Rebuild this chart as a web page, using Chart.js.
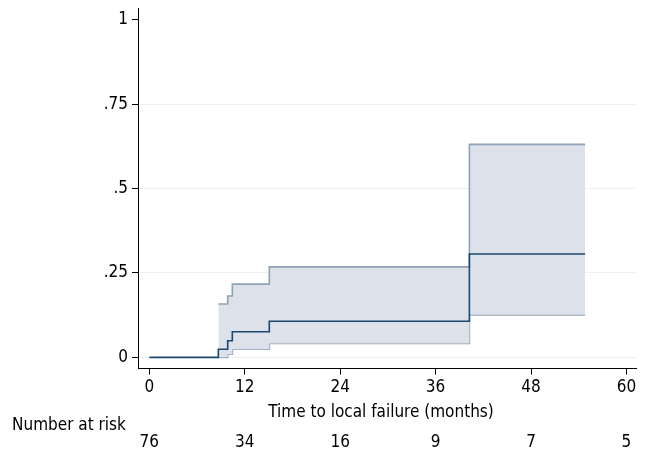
<!DOCTYPE html>
<html>
<head>
<meta charset="utf-8">
<script src="https://cdn.jsdelivr.net/npm/chart.js@4/dist/chart.umd.min.js"></script>
<style>
html,body{margin:0;padding:0;background:#fff;}
#wrap{width:650px;height:451px;position:relative;}
</style>
</head>
<body>
<div id="wrap"><canvas id="c" width="650" height="451"></canvas></div>
<script>
// Kaplan-Meier failure estimate (step changes at these times)
const kmTimes  = [0, 8.68, 9.86, 10.44, 15.09, 40.25, 54.8];
const kmValues = [0, 0.024, 0.049, 0.076, 0.107, 0.306, 0.306];
// 95% confidence band
const ciTimes  = [8.68, 9.86, 10.44, 15.09, 40.25, 54.8];
const ciUpper  = [0.158, 0.182, 0.217, 0.268, 0.631, 0.631];
const ciLower  = [0.0, 0.009, 0.024, 0.041, 0.126, 0.126];
// axes
const xTicks = [0, 12, 24, 36, 48, 60];
const yTicks = [0, 0.25, 0.5, 0.75, 1];
const yTickLabels = ['0', '.25', '.5', '.75', '1'];
// number at risk table
const riskTimes  = [0, 12, 24, 36, 48, 60];
const riskCounts = [76, 34, 16, 9, 7, 5];
const xTitle = 'Time to local failure (months)';
const riskLabel = 'Number at risk';

const FONT = "'DejaVu Sans Condensed', 'Liberation Sans Narrow', 'DejaVu Sans', sans-serif";
const FSIZE = 17;
Chart.defaults.font.family = FONT;
Chart.defaults.font.size = FSIZE;
Chart.defaults.color = '#000';

const toPts = (xs, ys) => xs.map((x, i) => ({x: x, y: ys[i]}));

const extras = {
  id: 'extras',
  afterDraw(chart) {
    const ctx = chart.ctx;
    const xs = chart.scales.x;
    ctx.save();
    ctx.fillStyle = '#000';
    ctx.font = FSIZE + 'px ' + FONT;
    ctx.textBaseline = 'middle';
    ctx.textAlign = 'center';
    ctx.fillText(xTitle, 381, 413);
    ctx.textAlign = 'left';
    ctx.fillText(riskLabel, 12, 425.5);
    ctx.textAlign = 'center';
    riskTimes.forEach((t, i) => {
      ctx.fillText(String(riskCounts[i]), xs.getPixelForValue(t), 443);
    });
    ctx.restore();
  }
};

new Chart(document.getElementById('c'), {
  type: 'line',
  data: {
    datasets: [
      {
        data: toPts(kmTimes, kmValues),
        stepped: 'before',
        borderColor: '#1a476f',
        borderWidth: 1.6,
        pointRadius: 0,
        fill: false
      },
      {
        data: toPts(ciTimes, ciUpper),
        stepped: 'before',
        borderColor: '#8ea1b6',
        borderWidth: 1.6,
        pointRadius: 0,
        fill: '+1',
        backgroundColor: '#dce1ea'
      },
      {
        data: toPts(ciTimes, ciLower),
        stepped: 'before',
        borderColor: '#8ea1b6',
        borderWidth: 1.6,
        pointRadius: 0,
        fill: false
      }
    ]
  },
  options: {
    responsive: false,
    animation: false,
    events: [],
    layout: {padding: {left: 0, right: 14, top: 8, bottom: 0}},
    plugins: {legend: {display: false}, tooltip: {enabled: false}},
    scales: {
      x: {
        type: 'linear',
        min: -1.42,
        max: 61.2,
        afterBuildTicks: s => { s.ticks = xTicks.map(v => ({value: v})); },
        afterFit: s => { s.height = 82.5; s.paddingLeft = 0; s.paddingRight = 0; },
        grid: {drawOnChartArea: false, tickLength: 6, tickColor: '#000', tickWidth: 1},
        border: {display: true, color: '#000', width: 1},
        ticks: {padding: 3, maxRotation: 0, autoSkip: false, color: '#000',
                callback: v => String(v)}
      },
      y: {
        type: 'linear',
        min: -0.033,
        max: 1.035,
        afterBuildTicks: s => { s.ticks = yTicks.map(v => ({value: v})); },
        afterFit: s => { s.width = 138; s.paddingTop = 0; s.paddingBottom = 0; },
        grid: {
          tickLength: 6, tickColor: '#000', tickWidth: 1,
          color: c => (c.tick && c.tick.value === 1) ? 'rgba(0,0,0,0)' : '#eaf2f3',
          lineWidth: 1
        },
        border: {display: true, color: '#000', width: 1},
        ticks: {padding: 4, autoSkip: false, color: '#000',
                callback: v => { const i = yTicks.indexOf(v); return i >= 0 ? yTickLabels[i] : ''; }}
      }
    }
  },
  plugins: [extras]
});
</script>
</body>
</html>
